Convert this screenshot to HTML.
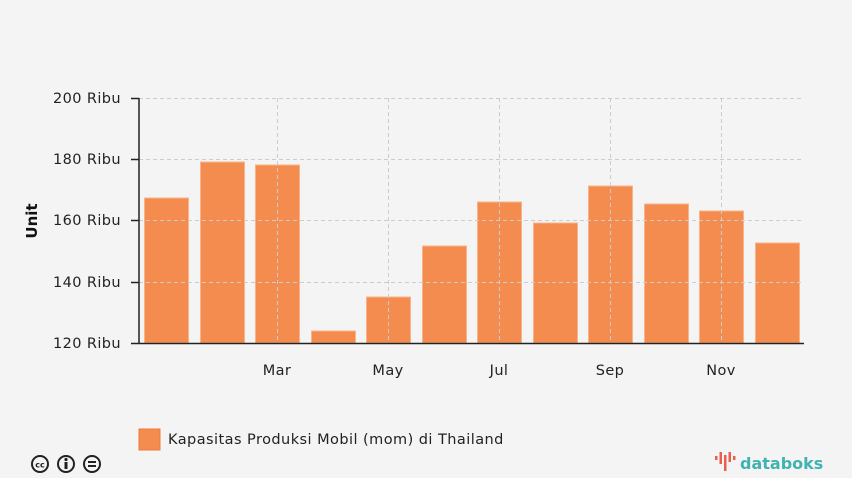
<!DOCTYPE html>
<html><head><meta charset="utf-8"><style>
html,body{margin:0;padding:0;background:#f4f4f4;}
body{width:852px;height:478px;overflow:hidden;font-family:"Liberation Sans","DejaVu Sans",sans-serif;}
</style></head><body>
<svg width="852" height="478" xmlns="http://www.w3.org/2000/svg" font-family="'DejaVu Sans','Liberation Sans',sans-serif" style="display:block">
<rect width="852" height="478" fill="#f4f4f4"/>
<g fill="#f48c4f" stroke="#f7b48a" stroke-width="1">
<rect x="144.5" y="198" width="44" height="145"/>
<rect x="200.5" y="162" width="44" height="181"/>
<rect x="255.5" y="165" width="44" height="178"/>
<rect x="311.5" y="331" width="44" height="12"/>
<rect x="366.5" y="297" width="44" height="46"/>
<rect x="422.5" y="246" width="44" height="97"/>
<rect x="477.5" y="202" width="44" height="141"/>
<rect x="533.5" y="223" width="44" height="120"/>
<rect x="588.5" y="186" width="44" height="157"/>
<rect x="644.5" y="204" width="44" height="139"/>
<rect x="699.5" y="211" width="44" height="132"/>
<rect x="755.5" y="243" width="44" height="100"/>
</g>
<g stroke="#cccccc" stroke-width="1" stroke-dasharray="4,3" fill="none">
<line x1="139" y1="98.5" x2="804" y2="98.5"/>
<line x1="139" y1="159.5" x2="804" y2="159.5"/>
<line x1="139" y1="220.5" x2="804" y2="220.5"/>
<line x1="139" y1="282.5" x2="804" y2="282.5"/>
<line x1="277.5" y1="98" x2="277.5" y2="343"/>
<line x1="388.5" y1="98" x2="388.5" y2="343"/>
<line x1="499.5" y1="98" x2="499.5" y2="343"/>
<line x1="610.5" y1="98" x2="610.5" y2="343"/>
<line x1="721.5" y1="98" x2="721.5" y2="343"/>
</g>
<g stroke="#222" stroke-width="1.5">
<line x1="139" y1="98" x2="139" y2="344"/>
<line x1="139" y1="343.5" x2="804" y2="343.5"/>
<line x1="131" y1="98.5" x2="139" y2="98.5"/>
<line x1="131" y1="159.5" x2="139" y2="159.5"/>
<line x1="131" y1="220.5" x2="139" y2="220.5"/>
<line x1="131" y1="282.5" x2="139" y2="282.5"/>
<line x1="131" y1="343.5" x2="139" y2="343.5"/>
</g>
<g font-size="14.5" letter-spacing="0.4" fill="#222" text-anchor="end">
<text x="121" y="103">200 Ribu</text>
<text x="121" y="164">180 Ribu</text>
<text x="121" y="225">160 Ribu</text>
<text x="121" y="287">140 Ribu</text>
<text x="121" y="348">120 Ribu</text>
</g>
<g font-size="14.5" letter-spacing="0.4" fill="#222" text-anchor="middle">
<text x="277" y="375">Mar</text>
<text x="388" y="375">May</text>
<text x="499" y="375">Jul</text>
<text x="610" y="375">Sep</text>
<text x="721" y="375">Nov</text>
</g>
<text x="37" y="221" font-size="15" font-weight="bold" fill="#111" text-anchor="middle" transform="rotate(-90 37 221)">Unit</text>
<rect x="139" y="429" width="21" height="21" fill="#f48c4f" stroke="#f07a3a"/>
<text x="168" y="444" font-size="14.5" letter-spacing="0.45" fill="#222">Kapasitas Produksi Mobil (mom) di Thailand</text>
<g fill="none" stroke="#222" stroke-width="2">
<circle cx="40" cy="464" r="8"/><circle cx="66" cy="464" r="8"/><circle cx="92" cy="464" r="8"/>
</g>
<text x="40" y="467.5" font-size="8" font-weight="bold" text-anchor="middle" fill="#222">cc</text>
<circle cx="66" cy="459.5" r="1.6" fill="#222"/><rect x="64.5" y="462" width="3" height="7" fill="#222"/>
<rect x="88" y="461" width="8" height="2" fill="#222"/><rect x="88" y="465" width="8" height="2" fill="#222"/>
<g fill="#e8604c">
<rect x="715" y="456" width="2.5" height="4"/><rect x="719.5" y="452" width="2.5" height="12"/>
<rect x="724" y="455" width="2.5" height="16"/><rect x="728.5" y="452" width="2.5" height="10"/>
<rect x="733" y="456" width="2.5" height="4"/>
</g>
<text x="740" y="469" font-size="16" font-weight="bold" fill="#3fb3b0">databoks</text>
</svg>
</body></html>
